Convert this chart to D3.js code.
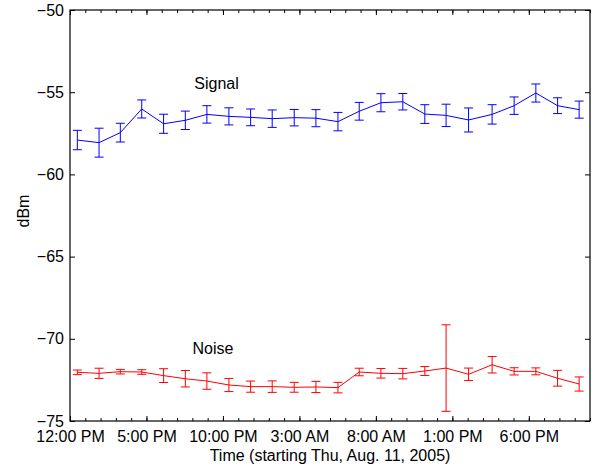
<!DOCTYPE html>
<html lang="en">
<meta charset="utf-8">
<title>Signal and noise</title>
<script src="https://d3js.org/d3.v7.min.js"></script>
<body>
<div id="chart"></div>
</body>

<style>
body {
  margin: 0;
  background-color: white;
}
.axisText text {
  font-family: "Liberation Sans", Arial, Helvetica, sans-serif;
  font-size: 16px;
  fill: black;
}
.label {
  font-family: "Liberation Sans", Arial, Helvetica, sans-serif;
  font-size: 16px;
  fill: black;
}
</style>

<script>
    // hours after 12:00 PM, Thu Aug 11 2005 (one value per bin)
    let hours = [0.48, 1.90, 3.29, 4.69, 6.12, 7.54, 8.95, 10.39, 11.81, 13.22, 14.66, 16.08,
                 17.52, 18.91, 20.33, 21.76, 23.20, 24.59, 26.06, 27.60, 29.04, 30.46, 31.88, 33.29];

    // signal mean and error (dBm)
    let signal = [-57.91, -58.07, -57.46, -56.02, -56.92, -56.71, -56.35, -56.47, -56.53, -56.61, -56.55, -56.58,
                  -56.79, -56.16, -55.64, -55.58, -56.33, -56.41, -56.69, -56.35, -55.82, -55.05, -55.82, -56.06];
    let signalErr = [0.59, 0.88, 0.57, 0.55, 0.58, 0.56, 0.53, 0.52, 0.51, 0.53, 0.50, 0.52,
                     0.56, 0.54, 0.55, 0.50, 0.57, 0.68, 0.73, 0.59, 0.53, 0.55, 0.48, 0.52];

    // noise mean and error (dBm)
    let noise = [-72.04, -72.10, -72.00, -72.02, -72.24, -72.43, -72.57, -72.81, -72.91, -72.91, -72.95, -72.93,
                 -72.97, -72.02, -72.10, -72.12, -71.96, -71.78, -72.16, -71.58, -71.98, -71.98, -72.40, -72.75];
    let noiseErr = [0.14, 0.31, 0.14, 0.14, 0.42, 0.50, 0.50, 0.40, 0.34, 0.35, 0.30, 0.34,
                    0.32, 0.23, 0.29, 0.32, 0.27, 2.63, 0.38, 0.50, 0.22, 0.21, 0.48, 0.43];

    // axis ticks
    let xTickHours = [0, 5, 10, 15, 20, 25, 30];
    let xTickLabels = ["12:00 PM", "5:00 PM", "10:00 PM", "3:00 AM", "8:00 AM", "1:00 PM", "6:00 PM"];
    let yTicks = [-75, -70, -65, -60, -55, -50];

    let width = 593, height = 468;
    let plotLeft = 70, plotRight = 590, plotTop = 10, plotBottom = 421;

    let svg = d3.select("#chart")
      .append("svg")
        .attr("width", width)
        .attr("height", height);

    let x = d3.scaleLinear().domain([0, 34]).range([plotLeft, plotRight]);
    let y = d3.scaleLinear().domain([-75, -50]).range([plotBottom, plotTop]);

    // ---- axes (ticks point inward, mirrored on top/right) ----
    let minorHours = d3.range(0, 35);

    svg.append("g")
      .attr("transform", "translate(0," + plotBottom + ")")
      .call(d3.axisBottom(x).tickValues(minorHours).tickSizeInner(-3).tickSizeOuter(0).tickFormat(""))
      .call(g => g.select(".domain").remove());
    svg.append("g")
      .attr("class", "axisText")
      .attr("transform", "translate(0," + plotBottom + ")")
      .call(d3.axisBottom(x).tickValues(xTickHours).tickSizeInner(-5).tickSizeOuter(0).tickPadding(10)
        .tickFormat((d, i) => xTickLabels[i]))
      .call(g => g.select(".domain").remove());

    svg.append("g")
      .attr("transform", "translate(0," + plotTop + ")")
      .call(d3.axisTop(x).tickValues(minorHours).tickSizeInner(-3).tickSizeOuter(0).tickFormat(""))
      .call(g => g.select(".domain").remove());
    svg.append("g")
      .attr("transform", "translate(0," + plotTop + ")")
      .call(d3.axisTop(x).tickValues(xTickHours).tickSizeInner(-5).tickSizeOuter(0).tickFormat(""))
      .call(g => g.select(".domain").remove());

    svg.append("g")
      .attr("class", "axisText")
      .attr("transform", "translate(" + plotLeft + ",0)")
      .call(d3.axisLeft(y).tickValues(yTicks).tickSizeInner(-5).tickSizeOuter(0).tickPadding(6)
        .tickFormat(d => d3.format("d")(d).replace("-", "\u2212")))
      .call(g => g.select(".domain").remove());

    svg.append("g")
      .attr("transform", "translate(" + plotRight + ",0)")
      .call(d3.axisRight(y).tickValues(yTicks).tickSizeInner(-5).tickSizeOuter(0).tickFormat(""))
      .call(g => g.select(".domain").remove());

    // frame
    svg.append("rect")
      .attr("x", plotLeft)
      .attr("y", plotTop)
      .attr("width", plotRight - plotLeft)
      .attr("height", plotBottom - plotTop)
      .attr("fill", "none")
      .attr("stroke", "black")
      .attr("stroke-width", 1.2);

    // axis titles
    svg.append("text")
      .attr("class", "label")
      .attr("text-anchor", "middle")
      .attr("x", (plotLeft + plotRight) / 2)
      .attr("y", 461)
      .text("Time (starting Thu, Aug. 11, 2005)");

    svg.append("text")
      .attr("class", "label")
      .attr("text-anchor", "middle")
      .attr("transform", "translate(29,211) rotate(-90)")
      .text("dBm");

    // ---- series with error bars ----
    function drawSeries(vals, errs, colour) {
      let pts = hours.map((h, i) => ({h: h, v: vals[i], e: errs[i]}));

      svg.append("path")
        .datum(pts)
        .attr("fill", "none")
        .attr("stroke", colour)
        .attr("stroke-width", 1)
        .attr("d", d3.line().x(d => x(d.h)).y(d => y(d.v)));

      let bars = svg.append("g")
        .attr("stroke", colour)
        .attr("stroke-width", 1)
        .selectAll("g")
        .data(pts)
        .enter()
        .append("g");

      bars.append("line")
        .attr("x1", d => x(d.h)).attr("x2", d => x(d.h))
        .attr("y1", d => y(d.v - d.e)).attr("y2", d => y(d.v + d.e));
      bars.append("line")
        .attr("x1", d => x(d.h) - 4.5).attr("x2", d => x(d.h) + 4.5)
        .attr("y1", d => y(d.v - d.e)).attr("y2", d => y(d.v - d.e));
      bars.append("line")
        .attr("x1", d => x(d.h) - 4.5).attr("x2", d => x(d.h) + 4.5)
        .attr("y1", d => y(d.v + d.e)).attr("y2", d => y(d.v + d.e));
    }

    drawSeries(signal, signalErr, "#0000ff");
    drawSeries(noise, noiseErr, "#ff0000");

    // series labels
    svg.append("text")
      .attr("class", "label")
      .attr("text-anchor", "middle")
      .attr("x", 216.5)
      .attr("y", 89)
      .text("Signal");

    svg.append("text")
      .attr("class", "label")
      .attr("text-anchor", "middle")
      .attr("x", 213)
      .attr("y", 354)
      .text("Noise");
</script>
</html>
